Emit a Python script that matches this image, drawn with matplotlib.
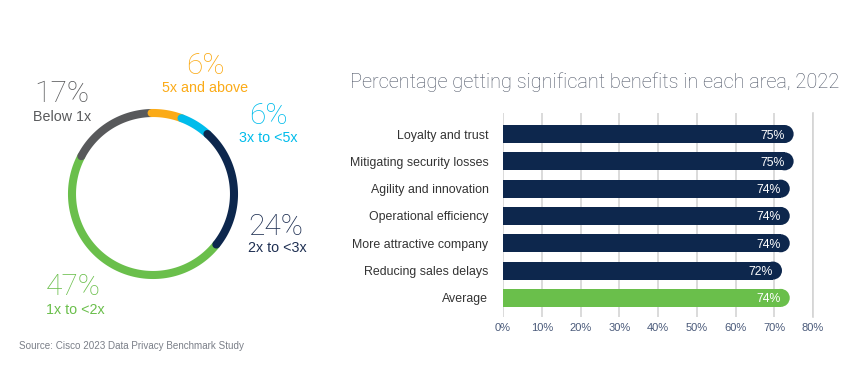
import numpy as np
import matplotlib
matplotlib.use("Agg")
import matplotlib.pyplot as plt

# ---- data ----
ring_labels = ["5x and above", "3x to <5x", "2x to <3x", "1x to <2x", "Below 1x"]
ring_values = [6, 6, 24, 47, 17]
ring_colors = ["#fbab18", "#00bceb", "#0d274d", "#6abf4b", "#58595b"]

categories = ["Loyalty and trust", "Mitigating security losses", "Agility and innovation",
              "Operational efficiency", "More attractive company", "Reducing sales delays", "Average"]
bar_values = [75, 75, 74, 74, 74, 72, 74]
bar_colors = ["#0d274d"] * 6 + ["#6abf4b"]
x_ticks = [0, 10, 20, 30, 40, 50, 60, 70, 80]

LIGHT = dict(family="Roboto", fontweight="light")
SANS = ["Liberation Sans", "DejaVu Sans"]

fig = plt.figure(figsize=(8.5, 3.73), dpi=100)

# ---- donut in pixel coordinates ----
ax0 = fig.add_axes([0, 0, 1, 1])
ax0.set_xlim(0, 850)
ax0.set_ylim(373, 0)
ax0.axis("off")

cx, cy, R = 153, 194, 81
total = sum(ring_values)
start = -1.0
bounds = []
for v in ring_values:
    end = start + 360 * v / total
    bounds.append((start, end))
    start = end
order = [3, 4, 0, 1, 2]
for i in order:
    a0, a1 = bounds[i]
    th = np.radians(np.linspace(a0, a1, 100))
    ax0.plot(cx + R * np.sin(th), cy - R * np.cos(th), color=ring_colors[i],
             lw=5.8, solid_capstyle="round", zorder=2 + order.index(i))

# labels for donut: (x, y_big, y_small, ha)
lab_pos = {0: (205, 66, 88, "center"), 1: (268, 116, 138, "center"),
           2: (248, 227, 248, "left"), 3: (46, 287, 310, "left"),
           4: (62, 94, 117, "center")}
txt_colors = ["#fbab18", "#00bceb", "#1e2f52", "#6abf4b", "#58595b"]
for i, (x, yb, ys, ha) in lab_pos.items():
    ax0.text(x, yb, f"{ring_values[i]}%", color=txt_colors[i], fontsize=21.5,
             ha=ha, va="center", **LIGHT)
    ax0.text(x, ys, ring_labels[i], color=txt_colors[i], fontsize=10.3,
             ha=ha, va="center", family=SANS)

ax0.text(350, 82, "Percentage getting significant benefits in each area, 2022",
         color="#4d5566", fontsize=14.4, ha="left", va="center", **LIGHT)
ax0.text(19, 346, "Source: Cisco 2023 Data Privacy Benchmark Study",
         color="#7a7f88", fontsize=7.1, ha="left", va="center", family=SANS)

# ---- bar chart ----
ax = fig.add_axes([503 / 850, 1 - 317 / 373, 310 / 850, (317 - 113) / 373])
y = np.arange(len(categories))
bar_h = 0.66
h_px = bar_h * (317 - 113) / 7.47
r_data = (h_px / 2) / (310 / 80)
ax.barh(y, [v - r_data for v in bar_values], height=bar_h, color=bar_colors, zorder=3)
ax.scatter([v - r_data for v in bar_values], y, s=(h_px * 0.72) ** 2,
           color=bar_colors, marker="o", linewidths=0, zorder=3)
for yi, v in zip(y, bar_values):
    ax.text(v - 2.3, yi, f"{v}%", color="white", fontsize=8.8, ha="right",
            va="center_baseline", family=SANS, zorder=4)

ax.set_xlim(0, 80)
ax.set_ylim(6.7, -0.77)
ax.set_xticks(x_ticks)
ax.set_xticklabels([f"{t}%" for t in x_ticks], color="#4a5a7a", fontsize=8, family=SANS)
ax.set_yticks(y)
ax.set_yticklabels(categories, color="#333333", fontsize=8.9, family=SANS)
ax.tick_params(axis="y", length=0, pad=10.5)
ax.tick_params(axis="x", length=0, pad=4)
ax.grid(axis="x", color="#d4d4d4", lw=1.2, zorder=0)
for s in ["top", "left", "bottom"]:
    ax.spines[s].set_visible(False)
ax.spines["right"].set_color("#d4d4d4")
ax.spines["right"].set_linewidth(1.2)

fig.savefig("out.png", dpi=100)
